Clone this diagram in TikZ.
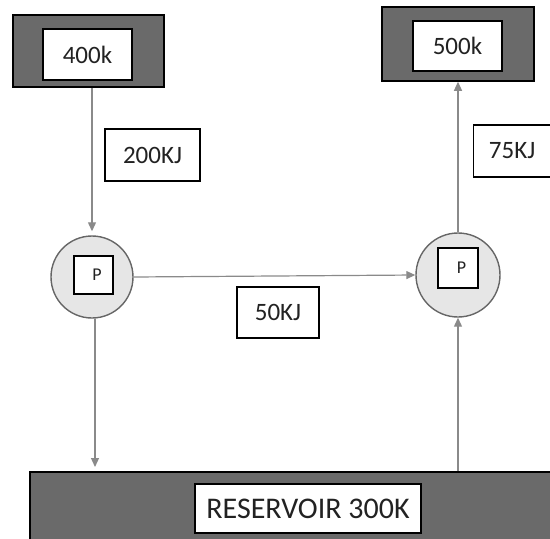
\documentclass[tikz,border=0pt]{standalone}
\usepackage{fontspec}
\setmainfont{Carlito}
\usetikzlibrary{arrows.meta,calc}
\definecolor{darkfill}{HTML}{6A6A6A}
\definecolor{circfill}{HTML}{E6E6E6}
\definecolor{linegray}{HTML}{8A8A8A}
\definecolor{txt}{HTML}{222222}
\tikzset{
  darkbox/.style={draw=black, line width=1.5pt, fill=darkfill, inner sep=0pt},
  whitebox/.style={draw=black, line width=1.1pt, fill=white, inner sep=0pt, text=txt,
     font=\fontsize{25}{30}\selectfont},
  pcirc/.style={circle, draw=black!60, line width=1.4pt, fill=circfill, inner sep=0pt},
  psq/.style={draw=black, line width=1.1pt, fill=white, inner sep=0pt, text=txt,
     font=\fontsize{18}{22}\selectfont},
  arr/.style={draw=linegray, line width=1.2pt, -{Triangle[length=9pt,width=8pt,fill=linegray]}},
  ln/.style={draw=linegray, line width=1.2pt}
}
\begin{document}
\begin{tikzpicture}[x=1pt,y=-1pt]
\useasboundingbox (0,0) rectangle (550,539);
% top boxes
\node[darkbox, minimum width=151pt, minimum height=72pt] (dark1) at (88.5,51) {};
\node[whitebox, minimum width=89pt, minimum height=51pt] (w1) at (87.5,54.5) {400k};
\node[darkbox, minimum width=152pt, minimum height=74pt] (dark2) at (458,44) {};
\node[whitebox, minimum width=89pt, minimum height=50pt] (w2) at (457.5,46) {500k};
% label boxes
\node[whitebox, minimum width=95pt, minimum height=52pt] (kj200) at (152.5,155) {200KJ};
\node[whitebox, minimum width=87pt, minimum height=52pt, anchor=west] (kj75) at (473,151) {\hspace*{0pt}75KJ\hspace*{10pt}};
\node[whitebox, minimum width=82pt, minimum height=51pt] (kj50) at (278,312.5) {50KJ};
% circles
\node[pcirc, minimum size=82pt] (c1) at (92,277) {};
\node[psq, minimum width=39pt, minimum height=38pt] (sq1) at (93.5,275) {\hspace*{7pt}P};
\node[pcirc, minimum size=84pt] (c2) at (458,275) {};
\node[psq, minimum width=40pt, minimum height=40pt] (sq2) at (458,268) {\hspace*{7pt}P};
% reservoir
\node[darkbox, minimum width=560pt, minimum height=130pt, anchor=north west] (res) at (29,471) {};
\node[whitebox, minimum width=226pt, minimum height=49pt, font=\fontsize{30}{36}\selectfont] (resbox) at (308,508.5) {RESERVOIR 300K};
% connectors
\draw[arr, shorten >=4pt] (c1 |- dark1.south) -- (c1.north);
\draw[arr] (c1.east) -- (c2.west);
\draw[arr, shorten >=4pt] ($(c1.south)+(3,0)$) -- ($(c1 |- res.north)+(3,0)$);
\draw[arr] (c2 |- res.north) -- (c2.south);
\draw[arr] (c2.north) -- (c2 |- dark2.south);
\end{tikzpicture}
\end{document}
